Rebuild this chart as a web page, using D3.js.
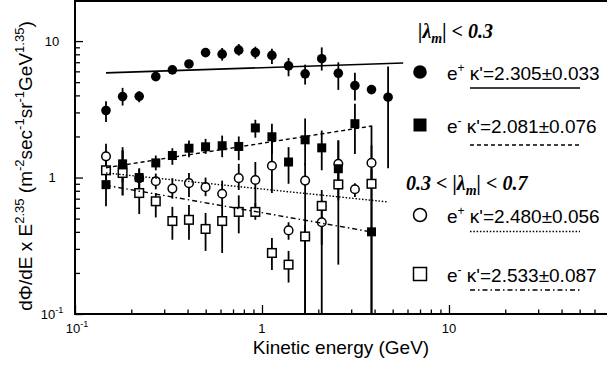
<!DOCTYPE html>
<html><head><meta charset="utf-8">
<script src="https://cdn.jsdelivr.net/npm/d3@7"></script>
<style>body{margin:0;background:#fff}svg{display:block}</style>
</head><body>
<script>
// ---------- DATA ----------
const energies = [0.1465,0.1797,0.2205,0.2704,0.3317,0.4069,0.4992,0.6123,0.7512,0.9215,1.130,1.387,1.701,2.087,2.560,3.140,3.852,4.725];
// e+  |λm| < 0.3  (filled circles)
const posLowVal = [3.10,3.92,3.94,5.49,6.15,6.80,8.23,8.02,8.58,8.23,7.85,6.58,5.75,7.43,5.81,4.72,4.41,3.88];
const posLowLo  = [2.55,3.37,3.56,5.13,5.75,6.36,7.69,7.19,7.82,7.43,6.80,5.52,4.80,6.08,4.39,3.67,4.13,1.17];
const posLowHi  = [3.62,4.54,4.29,5.87,6.58,7.28,8.80,8.90,9.52,9.10,8.80,7.52,6.72,8.99,6.99,5.85,4.72,6.50];
// e-  |λm| < 0.3  (filled squares)
const negLowVal = [0.887,1.26,1.00,1.28,1.45,1.64,1.68,1.71,1.69,2.31,1.99,1.30,1.89,1.65,1.16,2.48,0.40,null];
const negLowLo  = [0.616,0.741,0.81,1.13,1.24,1.41,1.49,1.41,1.34,1.96,1.49,0.90,1.23,1.13,0.68,1.49,0.01,null];
const negLowHi  = [1.23,1.67,1.15,1.45,1.64,1.87,1.92,2.03,2.00,2.65,2.48,1.67,2.71,2.21,1.87,3.47,2.41,null];
// e+  0.3 < |λm| < 0.7  (open circles)
const posHighVal = [1.43,1.20,0.99,0.94,0.83,0.91,0.85,0.76,0.99,0.96,1.22,0.41,0.95,0.47,1.26,0.82,1.28,null];
const posHighLo  = [1.17,0.92,0.83,0.82,0.70,0.72,0.73,0.60,0.81,0.61,0.77,0.35,0.01,0.32,0.81,0.72,0.95,null];
const posHighHi  = [1.77,1.58,1.17,1.07,0.99,1.08,1.00,0.95,1.26,1.30,1.87,0.47,1.27,0.68,1.87,0.91,1.72,null];
// e-  0.3 < |λm| < 0.7  (open squares)
const negHighVal = [1.13,1.08,0.77,0.67,0.48,0.49,0.42,0.48,0.56,0.56,0.28,0.23,0.37,0.62,0.89,null,0.90,null];
const negHighLo  = [0.92,0.74,0.54,0.51,0.35,0.35,0.29,0.28,0.39,0.49,0.21,0.17,0.01,0.01,0.23,null,0.01,null];
const negHighHi  = [1.38,1.58,0.93,0.77,0.61,0.63,0.55,0.61,0.74,0.65,0.36,0.29,0.45,0.81,1.13,null,1.15,null];
// power-law fits: [E start, E end], [value start, value end]
const fitPosLowE = [0.1465, 5.69],  fitPosLowV = [5.85, 6.90];
const fitNegLowE = [0.1465, 3.83],  fitNegLowV = [1.18, 2.38];
const fitPosHighE = [0.1465, 4.74], fitPosHighV = [1.08, 0.662];
const fitNegHighE = [0.1465, 3.83], fitNegHighV = [0.877, 0.40];
// legend texts
const legendSign = ["+", "-", "+", "-"];
const legendKappa = ["κ'=2.305±0.033", "κ'=2.081±0.076", "κ'=2.480±0.056", "κ'=2.533±0.087"];
// axis ticks
const xMajor = [0.1, 1, 10];
const xMajorLabel = [["10","-1"],["1",""],["10",""]];
const yMajor = [0.1, 1, 10];
const yMajorLabel = [["10","-1"],["1",""],["10",""]];

// ---------- CHART ----------
const W = 607, H = 365;
const FONT = "'Liberation Sans', Arial, sans-serif";
const SERIF = "'Liberation Serif', 'Times New Roman', serif";
const svg = d3.select("body").append("svg").attr("width", W).attr("height", H)
  .style("font-family", FONT);

const x = d3.scaleLog().domain([0.1, 70]).range([75, 607]);
const y = d3.scaleLog().domain([0.1, 20]).range([314, 0]);

svg.append("defs").append("clipPath").attr("id","clip")
  .append("rect").attr("x",75).attr("y",0).attr("width",W-75).attr("height",314);

// minor tick values
const minorsOf = (lo, hi) => { const a=[]; for (let d=lo; d<hi; d*=10) for (let k=2;k<=9;k++) a.push(d*k); return a; };
const xMinor = minorsOf(0.1, 100).filter(v => v < 70);
const yMinor = minorsOf(0.1, 10).concat([20]).filter(v => v <= 20);

// axes (ticks pointing inward)
const gx = svg.append("g").attr("transform","translate(0,314)");
gx.call(d3.axisBottom(x).tickValues(xMinor).tickSize(-4.5).tickFormat("").tickSizeOuter(0));
gx.append("g").call(d3.axisBottom(x).tickValues(xMajor).tickSize(-9).tickFormat("").tickSizeOuter(0));
const gy = svg.append("g").attr("transform","translate(75,0)");
gy.call(d3.axisLeft(y).tickValues(yMinor).tickSize(-5).tickFormat("").tickSizeOuter(0));
gy.append("g").call(d3.axisLeft(y).tickValues(yMajor).tickSize(-8).tickFormat("").tickSizeOuter(0));
svg.selectAll(".domain").remove();
svg.selectAll(".tick line").attr("stroke","#000").attr("stroke-width",1.3);

// frame
svg.append("path").attr("d", `M${W+5},1 H75 V314 H${W+5}`).attr("fill","none")
  .attr("stroke","#000").attr("stroke-width",2);

// tick labels
function supText(g, px, py, parts, size) {
  const t = g.append("text").attr("x", px).attr("y", py).attr("text-anchor","middle")
    .attr("font-size", size);
  t.append("tspan").text(parts[0]);
  if (parts[1]) t.append("tspan").attr("dy", -6).attr("font-size", size*0.7).text(parts[1]);
  return t;
}
xMajor.forEach((v,i) => supText(svg, x(v) + (xMajorLabel[i][1] ? 2 : 0), 332.5, xMajorLabel[i], 13));
yMajor.forEach((v,i) => supText(svg, 52, y(v)+4.5, yMajorLabel[i], 13));

// axis titles
const xt = svg.append("text").attr("x", 341).attr("y", 354).attr("text-anchor","middle")
  .attr("font-size", 19).text("Kinetic energy (GeV)");
const yt = svg.append("text").attr("transform","translate(32,166) rotate(-90)")
  .attr("text-anchor","middle").attr("font-size", 19);
[["dΦ/dE x E",0],["2.35",1],[" (m",0],["-2",1],["sec",0],["-1",1],["sr",0],["-1",1],["GeV",0],["1.35",1],[")",0]]
  .forEach(([s,sup],i,arr) => {
    const prevSup = i>0 && arr[i-1][1];
    const dy = sup ? -8 : (prevSup ? 8 : 0);
    yt.append("tspan").attr("dy", dy).attr("font-size", sup ? 13 : 19).text(s);
  });

// ---------- DATA MARKS ----------
const plot = svg.append("g").attr("clip-path","url(#clip)");
function seriesData(val, lo, hi) {
  return energies.map((e,i) => ({e, v: val[i], lo: lo[i], hi: hi[i]})).filter(d => d.v != null);
}
const sPosLow = seriesData(posLowVal, posLowLo, posLowHi);
const sNegLow = seriesData(negLowVal, negLowLo, negLowHi);
const sPosHigh = seriesData(posHighVal, posHighLo, posHighHi);
const sNegHigh = seriesData(negHighVal, negHighLo, negHighHi);

function errBars(data) {
  plot.append("g").selectAll("line").data(data).join("line")
    .attr("x1", d => x(d.e)).attr("x2", d => x(d.e))
    .attr("y1", d => y(Math.max(d.lo, 0.05))).attr("y2", d => y(d.hi))
    .attr("stroke","#000").attr("stroke-width",1.8);
}
[sPosLow, sNegLow, sPosHigh, sNegHigh].forEach(errBars);

const R = 4.8, S = 9;
plot.append("g").selectAll("circle").data(sPosHigh).join("circle")
  .attr("cx", d => x(d.e)).attr("cy", d => y(d.v)).attr("r", 4.3)
  .attr("fill","#fff").attr("stroke","#000").attr("stroke-width",1.5);
plot.append("g").selectAll("rect").data(sNegHigh).join("rect")
  .attr("x", d => x(d.e)-4.3).attr("y", d => y(d.v)-4.3).attr("width", 8.6).attr("height", 8.6)
  .attr("fill","#fff").attr("stroke","#000").attr("stroke-width",1.5);
plot.append("g").selectAll("circle").data(sPosLow).join("circle")
  .attr("cx", d => x(d.e)).attr("cy", d => y(d.v)).attr("r", R).attr("fill","#000");
plot.append("g").selectAll("rect").data(sNegLow).join("rect")
  .attr("x", d => x(d.e)-S/2).attr("y", d => y(d.v)-S/2).attr("width", S).attr("height", S)
  .attr("fill","#000");

// fit lines
const styles = [null, "4,3", "1.5,1.8", "5,3,1.5,3"];
const fits = [[fitPosLowE, fitPosLowV],[fitNegLowE, fitNegLowV],[fitPosHighE, fitPosHighV],[fitNegHighE, fitNegHighV]];
const line = d3.line().x(d => x(d[0])).y(d => y(d[1]));
fits.forEach(([E,V],i) => {
  const p = plot.append("path").attr("d", line(E.map((e,k) => [e, V[k]])))
    .attr("fill","none").attr("stroke","#000").attr("stroke-width", i===0 ? 1.6 : 1.4);
  if (styles[i]) p.attr("stroke-dasharray", styles[i]);
});

// ---------- LEGEND ----------
function heading(px, py, pre, post) {
  const t = svg.append("text").attr("x", px).attr("y", py).attr("font-family", SERIF)
    .attr("font-weight","bold").attr("font-style","italic").attr("font-size", 20);
  t.append("tspan").text(pre + "|λ");
  t.append("tspan").attr("dy", 5).attr("font-size", 14).text("m");
  t.append("tspan").attr("dy", -5).text("| " + post);
}
heading(418, 38, "", "< 0.3");
heading(406, 190, "0.3 < ", "< 0.7");

const legY = [72, 125, 215, 274];
const legLineY = [88, 145, 231.5, 290];
// markers
svg.append("circle").attr("cx",420).attr("cy",legY[0]).attr("r",6.8).attr("fill","#000");
svg.append("rect").attr("x",413.5).attr("y",legY[1]-6.5).attr("width",13).attr("height",13).attr("fill","#000");
svg.append("circle").attr("cx",420).attr("cy",legY[2]).attr("r",6.5).attr("fill","#fff").attr("stroke","#000").attr("stroke-width",1.5);
svg.append("rect").attr("x",413.5).attr("y",legY[3]-6.5).attr("width",13).attr("height",13).attr("fill","#fff").attr("stroke","#000").attr("stroke-width",1.5);
legendKappa.forEach((k,i) => {
  const t = svg.append("text").attr("x", 447).attr("y", legY[i]+7.5).attr("font-size", 19);
  t.append("tspan").text("e");
  t.append("tspan").attr("dy", -8).attr("font-size", 12).text(legendSign[i]);
  t.append("tspan").attr("dy", 8).text(" " + k);
  const l = svg.append("line").attr("x1", 470).attr("x2", 580).attr("y1", legLineY[i]).attr("y2", legLineY[i])
    .attr("stroke","#000").attr("stroke-width", 1.4);
  if (styles[i]) l.attr("stroke-dasharray", styles[i]);
});
</script>
</body></html>
